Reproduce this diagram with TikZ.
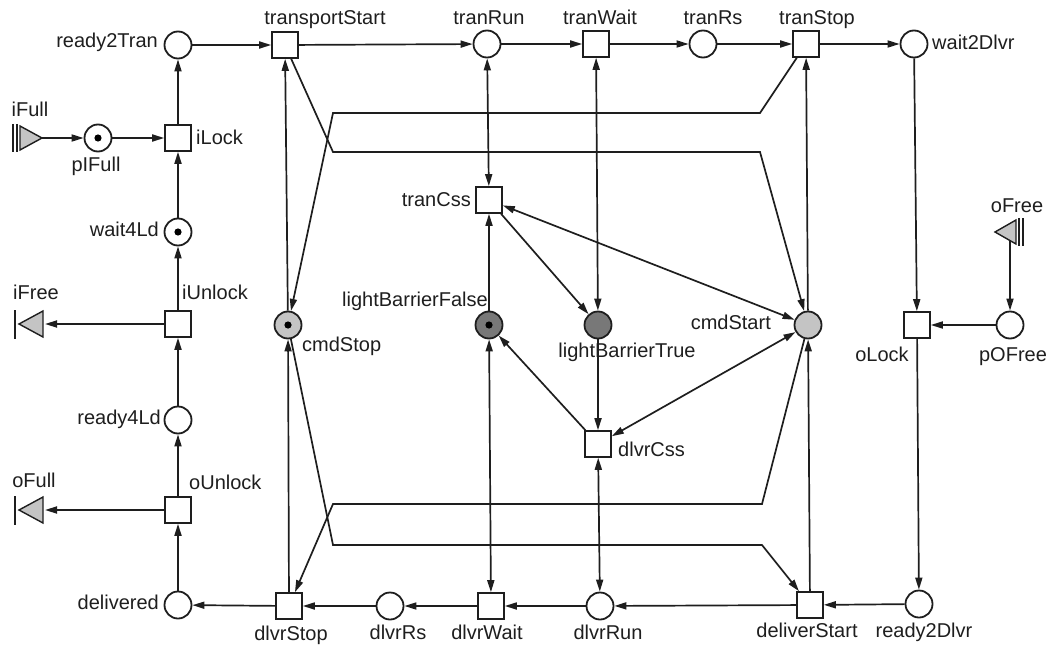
\documentclass[tikz,border=0pt]{standalone}
\usepackage{fontspec}
\setmainfont{Liberation Sans}
\usetikzlibrary{arrows.meta}
\definecolor{ink}{HTML}{1E1E1E}
\definecolor{lightfill}{HTML}{C4C4C4}
\definecolor{darkfill}{HTML}{787878}
\begin{document}
\begin{tikzpicture}[x=1pt,y=-1pt,
  place/.style={circle, draw=ink, line width=1.8pt, minimum size=27pt, inner sep=0pt, fill=white},
  trans/.style={rectangle, draw=ink, line width=1.6pt, minimum size=26pt, inner sep=0pt, fill=white},
  cmdplace/.style={place, fill=lightfill},
  sensor/.style={place, fill=darkfill},
  marked/.style={path picture={\fill[black] (path picture bounding box.center) circle (3.6pt);}},
  lab/.style={font=\fontsize{20}{24}\selectfont, inner sep=0pt, text=ink},
  arc/.style={draw=ink, line width=1.7pt, -{Triangle[length=12pt,width=7pt]}},
  biarc/.style={draw=ink, line width=1.7pt, {Triangle[length=12pt,width=7pt]}-{Triangle[length=12pt,width=7pt]}},
  port/.style={fill=lightfill, draw=ink, line width=1.4pt, line join=miter},
  bar/.style={draw=ink, line width=1.4pt},
]
\useasboundingbox (0,0) rectangle (1048,647);

% ---- interface ports ----
% iFull (input)
\draw[bar] (13,124) -- (13,152) (17,124) -- (17,152);
\draw[port] (20,126) -- (42,138) -- (20,150) -- cycle;
\coordinate (iFull) at (42,138);
% iFree (output)
\draw[bar] (15,310) -- (15,339);
\draw[port] (19,324) -- (43,311) -- (43,337) -- cycle;
\coordinate (iFree) at (45,324);
% oFull (output)
\draw[bar] (15,496) -- (15,525);
\draw[port] (19,510) -- (43,497) -- (43,523) -- cycle;
\coordinate (oFull) at (45,510);
% oFree (input)
\draw[port] (995,232) -- (1016,220) -- (1016,244) -- cycle;
\draw[bar] (1019,218) -- (1019,246) (1023,218) -- (1023,246);
\coordinate (oFree) at (1010,241);

% ---- places and transitions ----
\node[place] (ready2Tran) at (178,45) {};
\node[trans] (transportStart) at (285,45) {};
\node[place] (tranRun) at (487,44) {};
\node[trans] (tranWait) at (596,44) {};
\node[place] (tranRs) at (703,44) {};
\node[trans] (tranStop) at (806,44) {};
\node[place] (wait2Dlvr) at (914,44) {};
\node[place, marked] (pIFull) at (98,138) {};
\node[trans] (iLock) at (178,138) {};
\node[place, marked] (wait4Ld) at (178,232) {};
\node[trans] (iUnlock) at (178,324) {};
\node[place] (ready4Ld) at (178,420) {};
\node[trans] (oUnlock) at (178,510) {};
\node[place] (delivered) at (178,605) {};
\node[trans] (dlvrStop) at (289,606) {};
\node[place] (dlvrRs) at (390,606) {};
\node[trans] (dlvrWait) at (491,606) {};
\node[place] (dlvrRun) at (600,606) {};
\node[trans] (deliverStart) at (810,605) {};
\node[place] (ready2Dlvr) at (919,604) {};
\node[cmdplace, marked] (cmdStop) at (288,325) {};
\node[sensor, marked] (lightBarrierFalse) at (489,325) {};
\node[sensor] (lightBarrierTrue) at (598,325) {};
\node[cmdplace] (cmdStart) at (808,325) {};
\node[trans] (tranCss) at (489,200) {};
\node[trans] (dlvrCss) at (598,444) {};
\node[trans] (oLock) at (917,325) {};
\node[place] (pOFree) at (1010,325) {};

% bends of the command arcs
\coordinate (b1) at (760,113);
\coordinate (b2) at (333,113);
\coordinate (b3) at (333,152);
\coordinate (b4) at (760,152);
\coordinate (b5) at (762,504);
\coordinate (b6) at (333,504);
\coordinate (b7) at (333,545);
\coordinate (b8) at (762,545);

% ---- arcs: loading side ----
\draw[arc] (iFull) -- (pIFull);
\draw[arc] (pIFull) -- (iLock);
\draw[arc] (iLock) -- (ready2Tran);
\draw[arc] (wait4Ld) -- (iLock);
\draw[arc] (iUnlock) -- (wait4Ld);
\draw[arc] (iUnlock) -- (iFree);
\draw[arc] (ready4Ld) -- (iUnlock);
\draw[arc] (oUnlock) -- (ready4Ld);
\draw[arc] (oUnlock) -- (oFull);
\draw[arc] (delivered) -- (oUnlock);

% ---- transport row ----
\draw[arc] (ready2Tran) -- (transportStart);
\draw[arc] (transportStart) -- (tranRun);
\draw[arc] (tranRun) -- (tranWait);
\draw[arc] (tranWait) -- (tranRs);
\draw[arc] (tranRs) -- (tranStop);
\draw[arc] (tranStop) -- (wait2Dlvr);

% ---- delivery side ----
\draw[arc] (wait2Dlvr) -- (oLock);
\draw[arc] (oFree) -- (pOFree);
\draw[arc] (pOFree) -- (oLock);
\draw[arc] (oLock) -- (ready2Dlvr);
\draw[arc] (ready2Dlvr) -- (deliverStart);
\draw[arc] (deliverStart) -- (dlvrRun);
\draw[arc] (dlvrRun) -- (dlvrWait);
\draw[arc] (dlvrWait) -- (dlvrRs);
\draw[arc] (dlvrRs) -- (dlvrStop);
\draw[arc] (dlvrStop) -- (delivered);

% ---- motor commands ----
\draw[arc] (cmdStop) -- (transportStart);
\draw[arc] (cmdStart) -- (tranStop);
\draw[arc] (deliverStart) -- (cmdStart);
\draw[arc] (dlvrStop) -- (cmdStop);
\draw[arc] (tranStop) -- (b1) -- (b2) -- (cmdStop);
\draw[arc] (transportStart) -- (b3) -- (b4) -- (cmdStart);
\draw[arc] (cmdStart) -- (b5) -- (b6) -- (dlvrStop);
\draw[arc] (cmdStop) -- (b7) -- (b8) -- (deliverStart);

% ---- light barrier ----
\draw[biarc] (tranRun) -- (tranCss);
\draw[biarc] (tranCss) -- (cmdStart);
\draw[arc] (tranCss) -- (lightBarrierTrue);
\draw[arc] (lightBarrierFalse) -- (tranCss);
\draw[biarc] (tranWait) -- (lightBarrierTrue);
\draw[arc] (lightBarrierTrue) -- (dlvrCss);
\draw[arc] (dlvrCss) -- (lightBarrierFalse);
\draw[biarc] (dlvrCss) -- (cmdStart);
\draw[biarc] (dlvrCss) -- (dlvrRun);
\draw[biarc] (lightBarrierFalse) -- (dlvrWait);

% ---- labels ----
\node[lab, anchor=mid east] (t-ready2Tran) at (158,45) {ready2Tran};
\node[lab, anchor=mid] (t-transportStart) at (325,22) {transportStart};
\node[lab, anchor=mid] (t-tranRun) at (489,22) {tranRun};
\node[lab, anchor=mid] (t-tranWait) at (600,22) {tranWait};
\node[lab, anchor=mid] (t-tranRs) at (713,22) {tranRs};
\node[lab, anchor=mid] (t-tranStop) at (817,22) {tranStop};
\node[lab, anchor=mid west] (t-wait2Dlvr) at (932,47) {wait2Dlvr};
\node[lab, anchor=mid] (t-iFull) at (30,114) {iFull};
\node[lab, anchor=mid] (t-pIFull) at (96,169) {pIFull};
\node[lab, anchor=mid west] (t-iLock) at (196,142) {iLock};
\node[lab, anchor=mid east] (t-wait4Ld) at (159,234) {wait4Ld};
\node[lab, anchor=mid] (t-iFree) at (36,297) {iFree};
\node[lab, anchor=mid west] (t-iUnlock) at (182,297) {iUnlock};
\node[lab, anchor=mid east] (t-ready4Ld) at (161,422) {ready4Ld};
\node[lab, anchor=mid] (t-oFull) at (34,485) {oFull};
\node[lab, anchor=mid west] (t-oUnlock) at (189,487) {oUnlock};
\node[lab, anchor=mid east] (t-delivered) at (159,607) {delivered};
\node[lab, anchor=mid] (t-dlvrStop) at (291,638) {dlvrStop};
\node[lab, anchor=mid] (t-dlvrRs) at (398,637) {dlvrRs};
\node[lab, anchor=mid] (t-dlvrWait) at (487,637) {dlvrWait};
\node[lab, anchor=mid] (t-dlvrRun) at (608,637) {dlvrRun};
\node[lab, anchor=mid west] (t-dlvrCss) at (618,454) {dlvrCss};
\node[lab, anchor=mid] (t-deliverStart) at (807,635) {deliverStart};
\node[lab, anchor=mid] (t-ready2Dlvr) at (924,635) {ready2Dlvr};
\node[lab, anchor=mid east] (t-tranCss) at (471,204) {tranCss};
\node[lab, anchor=mid east] (t-lightBarrierFalse) at (488,304) {lightBarrierFalse};
\node[lab, anchor=mid west] (t-cmdStop) at (302,349) {cmdStop};
\node[lab, anchor=mid] (t-lightBarrierTrue) at (627,355) {lightBarrierTrue};
\node[lab, anchor=mid east] (t-cmdStart) at (771,327) {cmdStart};
\node[lab, anchor=mid] (t-oLock) at (882,359) {oLock};
\node[lab, anchor=mid] (t-pOFree) at (1013,359) {pOFree};
\node[lab, anchor=mid] (t-oFree) at (1017,210) {oFree};
\end{tikzpicture}
\end{document}
